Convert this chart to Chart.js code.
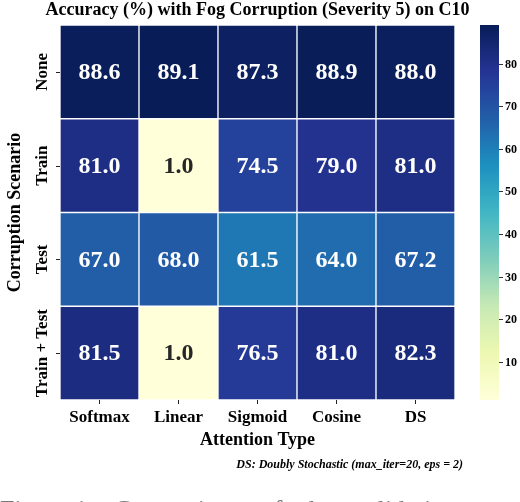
<!DOCTYPE html>
<html>
<head>
<meta charset="utf-8">
<script src="https://cdn.jsdelivr.net/npm/chart.js@4.4.1/dist/chart.umd.min.js"></script>
<style>
  html, body { margin: 0; padding: 0; background: #fff; overflow: hidden; }
  #wrap { width: 520px; height: 502px; }
</style>
</head>
<body>
<div id="wrap"><canvas id="myChart" width="520" height="502"></canvas></div>
<script>
// --- data ---
const attnTypes = ['Softmax', 'Linear', 'Sigmoid', 'Cosine', 'DS'];
const scenarios = ['None', 'Train', 'Test', 'Train + Test'];
const accNone = [88.6, 89.1, 87.3, 88.9, 88.0];
const accTrain = [81.0, 1.0, 74.5, 79.0, 81.0];
const accTest = [67.0, 68.0, 61.5, 64.0, 67.2];
const accTrainTest = [81.5, 1.0, 76.5, 81.0, 82.3];
const cbTicks = [10, 20, 30, 40, 50, 60, 70, 80];
const vmin = 1.0;
const vmax = 89.1;

const rows = [accNone, accTrain, accTest, accTrainTest];

// YlGnBu colormap stops
const ylgnbu = ['#ffffd9', '#edf8b1', '#c7e9b4', '#7fcdbb', '#41b6c4', '#1d91c0', '#225ea8', '#253494', '#081d58'];

function hexToRgb(h) {
    return [parseInt(h.slice(1, 3), 16), parseInt(h.slice(3, 5), 16), parseInt(h.slice(5, 7), 16)];
}

function cmap(v) {
    let t = (v - vmin) / (vmax - vmin);
    t = Math.max(0, Math.min(1, t));
    const pos = t * (ylgnbu.length - 1);
    const i = Math.min(Math.floor(pos), ylgnbu.length - 2);
    const f = pos - i;
    const a = hexToRgb(ylgnbu[i]), b = hexToRgb(ylgnbu[i + 1]);
    const c = a.map((x, k) => Math.round(x + (b[k] - x) * f));
    return `rgb(${c[0]},${c[1]},${c[2]})`;
}

const serif = '"Liberation Serif", "Times New Roman", serif';

// each row is a floating-bar dataset: row r spans [r, r+1] on a reversed y scale
const datasets = rows.map((vals, r) => ({
    label: scenarios[r],
    data: vals.map(() => [r, r + 1]),
    values: vals,
    backgroundColor: vals.map(cmap),
    borderColor: '#ffffff',
    borderWidth: 1,
    borderSkipped: false,
    barPercentage: 1,
    categoryPercentage: 1,
    grouped: false
}));

// --- text, annotations and colorbar ---
const heatPlugin = {
    id: 'heatExtras',
    afterDatasetsDraw(chart) {
        const ctx = chart.ctx;
        ctx.save();
        ctx.textAlign = 'center';
        ctx.textBaseline = 'middle';
        ctx.font = `bold 24px ${serif}`;
        chart.data.datasets.forEach((ds, di) => {
            const meta = chart.getDatasetMeta(di);
            meta.data.forEach((el, i) => {
                const v = ds.values[i];
                ctx.fillStyle = v < 40 ? '#262626' : '#ffffff';
                ctx.fillText(v.toFixed(1), el.x, (el.y + el.base) / 2 + 1);
            });
        });
        ctx.restore();
    },
    afterDraw(chart) {
        const ctx = chart.ctx;
        const area = chart.chartArea;
        const y = chart.scales.y;
        const cb = chart.scales.cb;
        const midX = (area.left + area.right) / 2;
        ctx.save();

        // title
        ctx.fillStyle = '#000';
        ctx.textAlign = 'center';
        ctx.textBaseline = 'middle';
        ctx.font = `bold 18px ${serif}`;
        ctx.fillText('Accuracy (%) with Fog Corruption (Severity 5) on C10', midX, 10);

        // y tick marks + rotated labels
        ctx.strokeStyle = '#222';
        ctx.lineWidth = 1;
        ctx.font = `bold 17px ${serif}`;
        scenarios.forEach((s, r) => {
            const py = y.getPixelForValue(r + 0.5);
            ctx.beginPath();
            ctx.moveTo(area.left - 4, Math.round(py) + 0.5);
            ctx.lineTo(area.left, Math.round(py) + 0.5);
            ctx.stroke();
            ctx.save();
            ctx.translate(43, py);
            ctx.rotate(-Math.PI / 2);
            ctx.fillText(s, 0, 0);
            ctx.restore();
        });

        // axis titles
        ctx.font = `bold 18px ${serif}`;
        ctx.fillText('Attention Type', midX, 440);
        ctx.save();
        ctx.translate(15, (area.top + area.bottom) / 2);
        ctx.rotate(-Math.PI / 2);
        ctx.fillText('Corruption Scenario', 0, 0);
        ctx.restore();

        // footnote
        ctx.textAlign = 'right';
        ctx.font = `italic bold 12px ${serif}`;
        ctx.fillText('DS: Doubly Stochastic (max_iter=20, eps = 2)', 463, 465);

        // caption cut off at the bottom
        ctx.textAlign = 'left';
        ctx.textBaseline = 'alphabetic';
        ctx.fillStyle = '#777';
        ctx.font = `26px ${serif}`;
        ctx.fillText('Figure 1:   Comparison   of   the   validation', 0, 517.5);

        // colorbar
        const cbL = 480, cbW = 19;
        const yTop = cb.getPixelForValue(vmax);
        const yBot = cb.getPixelForValue(vmin);
        const grad = ctx.createLinearGradient(0, yBot, 0, yTop);
        ylgnbu.forEach((c, i) => grad.addColorStop(i / (ylgnbu.length - 1), c));
        ctx.fillStyle = grad;
        ctx.fillRect(cbL, yTop, cbW, yBot - yTop);

        ctx.fillStyle = '#000';
        ctx.strokeStyle = '#333';
        ctx.textBaseline = 'middle';
        ctx.font = `bold 12px ${serif}`;
        cbTicks.forEach(t => {
            const py = Math.round(cb.getPixelForValue(t)) + 0.5;
            ctx.beginPath();
            ctx.moveTo(cbL + cbW, py);
            ctx.lineTo(cbL + cbW + 4, py);
            ctx.stroke();
            ctx.fillText(String(t), cbL + cbW + 6, py);
        });
        ctx.restore();
    }
};

new Chart(document.getElementById('myChart').getContext('2d'), {
    type: 'bar',
    data: { labels: attnTypes, datasets: datasets },
    options: {
        responsive: false,
        devicePixelRatio: 1,
        animation: false,
        layout: { padding: { left: 60, right: 65, top: 25, bottom: 0 } },
        plugins: { legend: { display: false }, tooltip: { enabled: false }, title: { display: false } },
        scales: {
            x: {
                type: 'category',
                offset: true,
                grid: { display: true, offset: false, drawOnChartArea: false, drawTicks: true, tickLength: 4, tickColor: '#222' },
                border: { display: false },
                ticks: { color: '#000', padding: 3, font: { family: serif, size: 17, weight: 'bold' } },
                afterFit: (s) => { s.height = 102; }
            },
            y: {
                type: 'linear',
                min: 0,
                max: 4,
                reverse: true,
                display: false
            },
            cb: {
                type: 'linear',
                axis: 'y',
                position: 'right',
                min: vmin,
                max: vmax,
                display: false
            }
        }
    },
    plugins: [heatPlugin]
});
</script>
</body>
</html>
